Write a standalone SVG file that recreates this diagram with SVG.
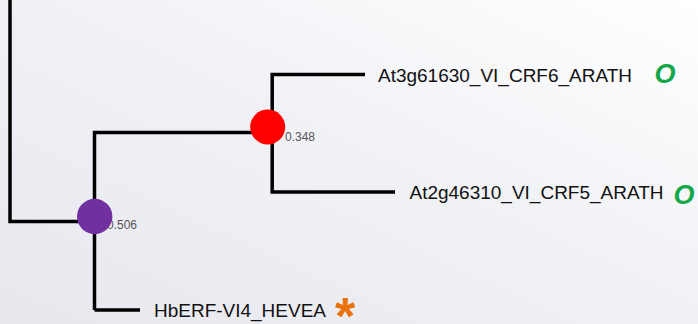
<svg xmlns="http://www.w3.org/2000/svg" width="698" height="324" viewBox="0 0 698 324">
  <defs>
    <linearGradient id="bg" x1="0" y1="1" x2="1" y2="0">
      <stop offset="0" stop-color="#e7e8ee"/>
      <stop offset="0.55" stop-color="#f1f2f6"/>
      <stop offset="1" stop-color="#ffffff"/>
    </linearGradient>
  </defs>
  <style>
    .edge { fill: none; stroke: #000; stroke-width: 3.5; stroke-linecap: butt; stroke-linejoin: miter; }
    .leaf { font-family: "Liberation Sans", Arial, sans-serif; font-size: 19px; fill: #111; }
    .sup { font-family: "Liberation Sans", Arial, sans-serif; font-size: 12px; fill: #555; }
    .mark-o { font-family: "Liberation Sans", Arial, sans-serif; font-size: 27px; font-weight: bold; font-style: italic; fill: #12a84a; }
    .mark-star { font-family: "Liberation Sans", Arial, sans-serif; font-size: 52px; font-weight: bold; fill: #e8720c; }
  </style>
  <rect x="0" y="0" width="698" height="324" fill="url(#bg)"/>

  <g id="connectors">
    <path class="edge" d="M10,0 V221.5 H94.5"/>
    <path class="edge" d="M94.5,310 V132.5 H268"/>
    <path class="edge" d="M94.5,310 H140"/>
    <path class="edge" d="M365,74.5 H272.2 V192 H395"/>
  </g>

  <g id="node-inner-0506">
    <text class="sup" x="107" y="229">0.506</text>
    <circle cx="94.7" cy="216.5" r="17.7" fill="#7030a0"/>
  </g>
  <g id="node-inner-0348">
    <text class="sup" x="285" y="141">0.348</text>
    <circle cx="267.7" cy="127" r="17.5" fill="#ff0000"/>
  </g>

  <g id="leaf-At3g61630">
    <text class="leaf" x="378" y="82" textLength="254" lengthAdjust="spacingAndGlyphs">At3g61630_VI_CRF6_ARATH</text>
    <text class="mark-o" x="654.5" y="83">O</text>
  </g>
  <g id="leaf-At2g46310">
    <text class="leaf" x="409.5" y="199" textLength="254" lengthAdjust="spacingAndGlyphs">At2g46310_VI_CRF5_ARATH</text>
    <text class="mark-o" x="673.5" y="204">O</text>
  </g>
  <g id="leaf-HbERF-VI4">
    <text class="leaf" x="154" y="316.5" textLength="172" lengthAdjust="spacingAndGlyphs">HbERF-VI4_HEVEA</text>
    <text class="mark-star" x="335" y="334">*</text>
  </g>
</svg>
